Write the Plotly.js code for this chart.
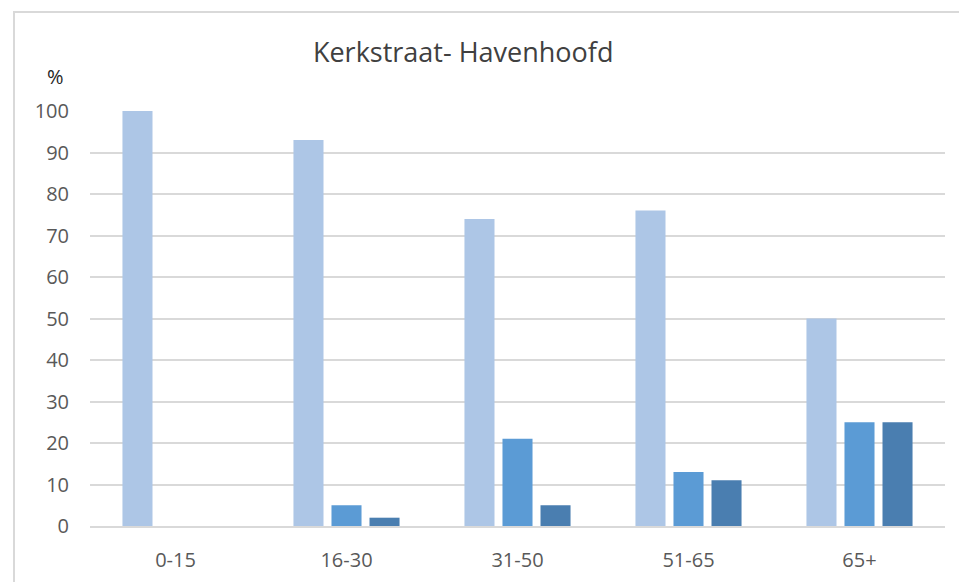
<!DOCTYPE html>
<html>
<head>
<meta charset="utf-8">
<script src="https://cdn.plot.ly/plotly-3.0.1.min.js"></script>
<style>
  html, body { margin: 0; padding: 0; background: #fff; }
  #wrap { position: relative; width: 959px; height: 582px; overflow: hidden; }
  #chart { position: absolute; left: 0; top: 0; width: 959px; height: 582px; }
  #frame { position: absolute; left: 13px; top: 11px; width: 1000px; height: 1000px;
           border-left: 2px solid #d9d9d9; border-top: 2px solid #d9d9d9; pointer-events: none; }
</style>
</head>
<body>
<div id="wrap">
  <div id="chart"></div>
  <div id="frame"></div>
</div>
<script>
const categories = ["0-15", "16-30", "31-50", "51-65", "65+"];
const series1 = [100, 93, 74, 76, 50];
const series2 = [0, 5, 21, 13, 25];
const series3 = [0, 2, 5, 11, 25];
const yTicks = [0, 10, 20, 30, 40, 50, 60, 70, 80, 90, 100];

const colors = ["#adc6e6", "#5b9bd5", "#4a7eb0"];
const allSeries = [series1, series2, series3];

const traces = allSeries.map((vals, i) => ({
  type: "bar",
  x: categories,
  y: vals,
  marker: { color: colors[i], line: { width: 0 } },
  hoverinfo: "skip"
}));

const tickFont = { family: "Open Sans, sans-serif", size: 20, color: "#595959" };

const layout = {
  width: 959,
  height: 582,
  margin: { l: 90, r: 14, t: 111, b: 56 },
  paper_bgcolor: "#ffffff",
  plot_bgcolor: "#ffffff",
  showlegend: false,
  barmode: "group",
  bargap: 0.333,
  bargroupgap: 0.21,
  title: {
    text: "Kerkstraat- Havenhoofd",
    font: { family: "Open Sans, sans-serif", size: 27, color: "#404040" },
    xref: "container", yref: "container",
    x: 0.483, xanchor: "center",
    y: 0.909, yanchor: "middle"
  },
  xaxis: {
    type: "category",
    tickfont: tickFont,
    showgrid: false,
    showline: true,
    linecolor: "#d9d9d9",
    linewidth: 2,
    ticks: "",
    ticklabelstandoff: 15,
    fixedrange: true
  },
  yaxis: {
    range: [0, 100],
    tickvals: yTicks,
    ticktext: yTicks.map(String),
    tickfont: tickFont,
    showgrid: true,
    gridcolor: "#d9d9d9",
    gridwidth: 2,
    zeroline: false,
    showline: false,
    ticks: "",
    ticklabelstandoff: 20,
    fixedrange: true
  },
  annotations: [{
    text: "%",
    xref: "paper", yref: "paper",
    x: -0.04, y: 1.084,
    xanchor: "center", yanchor: "middle",
    showarrow: false,
    font: { family: "Open Sans, sans-serif", size: 20, color: "#262626" }
  }]
};

Plotly.newPlot("chart", traces, layout, { displayModeBar: false, staticPlot: true });
</script>
</body>
</html>
